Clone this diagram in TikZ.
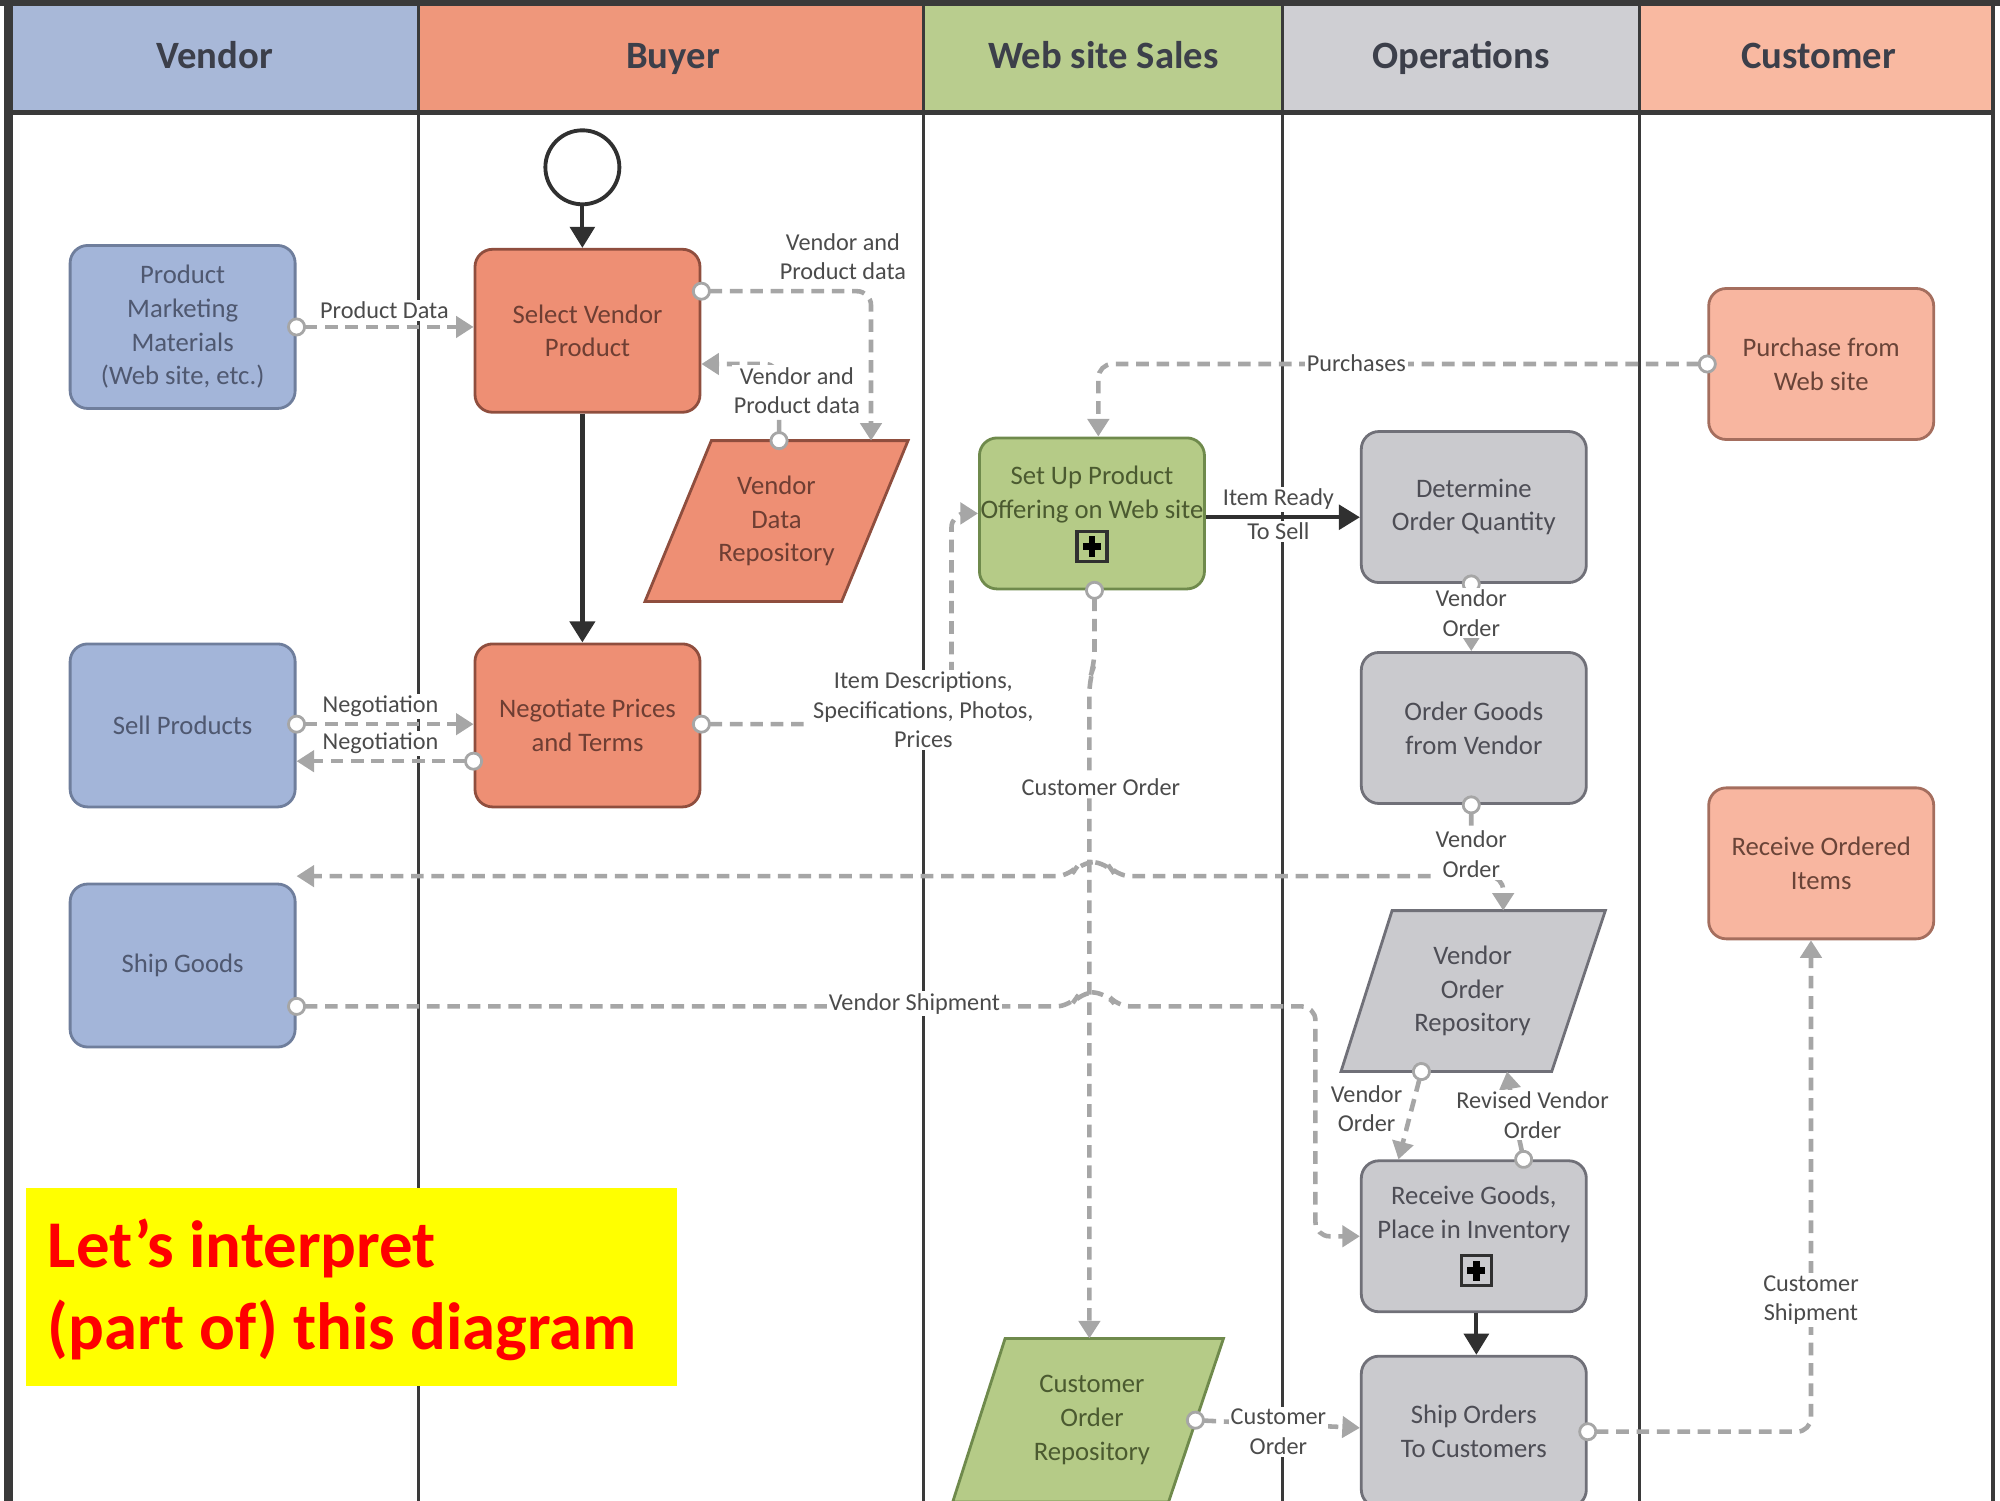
\documentclass[tikz,border=0pt]{standalone}
\usepackage{fontspec}
\setmainfont{Carlito}
\usetikzlibrary{arrows.meta,calc}
\definecolor{vhead}{HTML}{A8B8D8}
\definecolor{vfill}{HTML}{A3B5D9}
\definecolor{vdraw}{HTML}{6F7E9C}
\definecolor{vtext}{HTML}{4F5870}
\definecolor{bhead}{HTML}{EF977B}
\definecolor{bfill}{HTML}{EE8F74}
\definecolor{bdraw}{HTML}{8F4E3E}
\definecolor{btext}{HTML}{6E3E33}
\definecolor{whead}{HTML}{B9CD8E}
\definecolor{wfill}{HTML}{B5CB87}
\definecolor{wdraw}{HTML}{6F8A4C}
\definecolor{wtext}{HTML}{4B5A30}
\definecolor{ohead}{HTML}{CFCFD3}
\definecolor{ofill}{HTML}{CACACE}
\definecolor{odraw}{HTML}{707078}
\definecolor{otext}{HTML}{4D4D55}
\definecolor{chead}{HTML}{F9B9A1}
\definecolor{cfill}{HTML}{F8B6A0}
\definecolor{cdraw}{HTML}{A56E5E}
\definecolor{ctext}{HTML}{6A4438}
\definecolor{conncol}{HTML}{A6A6A6}
\definecolor{lblcol}{HTML}{4B4B4B}
\definecolor{flowcol}{HTML}{303030}
\definecolor{lanecol}{HTML}{3A3A3A}
\definecolor{headtext}{HTML}{3C3F4A}
\definecolor{yel}{HTML}{FFFF00}
\tikzset{
  proc/.style={draw, rounded corners=5pt, line width=0.8pt, align=center,
    minimum width=2.25cm, minimum height=1.51cm, inner sep=1pt,
    font=\fontsize{7.6}{9.6}\selectfont},
  vend/.style={proc, fill=vfill, draw=vdraw, text=vtext, minimum height=1.63cm},
  buy/.style={proc, fill=bfill, draw=bdraw, text=btext, minimum height=1.63cm},
  web/.style={proc, fill=wfill, draw=wdraw, text=wtext},
  ops/.style={proc, fill=ofill, draw=odraw, text=otext},
  cust/.style={proc, fill=cfill, draw=cdraw, text=ctext},
  repotext/.style={align=center, inner sep=0pt, font=\fontsize{7.6}{9.6}\selectfont},
  headlbl/.style={anchor=base, text=headtext, font=\fontsize{11}{13}\selectfont\bfseries},
  lane/.style={draw=lanecol, line width=0.8pt},
  conn/.style={draw=conncol, line width=1.3pt, dash pattern=on 3.6pt off 2.2pt,
    rounded corners=4pt},
  carr/.style={conn, -{Triangle[width=6pt,length=5pt]}},
  ccirc/.style={conn, {Circle[fill=white,line width=0.8pt,length=5.4pt,width=5.4pt]}-{Triangle[width=6pt,length=5pt]}, shorten <=-2.7pt},
  lbl/.style={fill=white, inner sep=0.6pt, align=center, text=lblcol,
    font=\fontsize{6.9}{8.4}\selectfont},
  flow/.style={draw=flowcol, line width=1.2pt, -{Triangle[width=7pt,length=6pt]}},
  plusbox/.style={draw=flowcol, line width=0.9pt, minimum size=0.30cm, inner sep=0pt},
}
\begin{document}
\begin{tikzpicture}[x=0.012771cm,y=-0.012771cm]
\useasboundingbox (0,0) rectangle (1566,1174.5);
% header band
\fill[vhead] (8,4) rectangle (328,88);
\fill[bhead] (328,4) rectangle (723,88);
\fill[whead] (723,4) rectangle (1004,88);
\fill[ohead] (1004,4) rectangle (1284,88);
\fill[chead] (1284,4) rectangle (1560,88);
\node[headlbl] (hv) at (168,54) {Vendor};
\node[headlbl] (hb) at (527,54) {Buyer};
\node[headlbl] (hw) at (864,54) {Web site Sales};
\node[headlbl] (ho) at (1144,54) {Operations};
\node[headlbl] (hc) at (1424,54) {Customer};
% lanes and frame
\foreach \x in {328,723,1004,1284} \draw[lane] (\x,4) -- (\x,1180);
\fill[lanecol] (0,0) rectangle (1566,4.5);
\fill[lanecol] (3,0) rectangle (10,1180);
\fill[lanecol] (1559,0) rectangle (1562,1180);
\draw[lanecol, line width=1.6pt] (8,88) -- (1560,88);

% ---------- nodes ----------
\node[vend] (pmm) at (143,256) {Product\\Marketing\\Materials\\(Web site, etc.)};
\node[vend] (sp) at (143,568) {Sell Products};
\node[vend] (sg) at (143,756) {Ship Goods};
\node[draw=flowcol, line width=1.1pt, circle, minimum size=0.74cm, inner sep=0pt] (start) at (456,131) {};
\node[buy] (svp) at (460,259) {Select Vendor\\Product};
\node[buy] (npt) at (460,568) {Negotiate Prices\\and Terms};
% vendor data repository
\filldraw[fill=bfill, draw=bdraw, line width=0.8pt] (557,345) -- (711,345) -- (659,471) -- (505,471) -- cycle;
\node[repotext, text=btext] (vdr) at (608,408) {Vendor\\Data\\Repository};
\node[web] (sup) at (855,402) {};
\node[repotext, text=wtext] (supt) at (855,387) {Set Up Product\\Offering on Web site};
\node[plusbox] (plus1) at (855,428) {};
% customer order repository
\filldraw[fill=wfill, draw=wdraw, line width=0.8pt] (787,1048) -- (958,1048) -- (915,1176) -- (746,1176) -- cycle;
\node[repotext, text=wtext] (cor) at (855,1112) {Customer\\Order\\Repository};
% vendor order repository
\filldraw[fill=ofill, draw=odraw, line width=0.8pt] (1090,713) -- (1257,713) -- (1215,839) -- (1050,839) -- cycle;
\node[repotext, text=otext] (vor) at (1153,776) {Vendor\\Order\\Repository};
\node[ops] (doq) at (1154,397) {Determine\\Order Quantity};
\node[ops] (ogv) at (1154,570) {Order Goods\\from Vendor};
\node[ops] (rg) at (1154,968) {};
\node[repotext, text=otext] (rgt) at (1154,951) {Receive Goods,\\Place in Inventory};
\node[plusbox] (plus2) at (1156,995) {};
\node[ops] (so) at (1154,1121) {Ship Orders\\To Customers};
\node[cust] (pws) at (1426,285) {Purchase from\\Web site};
\node[cust] (roi) at (1426,676) {Receive Ordered\\Items};
% plus signs
\foreach \p in {plus1,plus2}{
  \fill[black] ($(\p)+(-7,-2.6)$) rectangle ($(\p)+(7,2.6)$);
  \fill[black] ($(\p)+(-2.6,-8)$) rectangle ($(\p)+(2.6,8)$);
}
% named attachment points on the repositories
\coordinate (vdrA) at (682,345);
\coordinate (vdrB) at (610,345);
\coordinate (corA) at (853,1048);
\coordinate (corB) at (936,1112);
\coordinate (vorA) at (1177,713);
\coordinate (vorB) at (1113,839);
\coordinate (vorC) at (1180,839);
\coordinate (vo2) at (1152,686);

% ---------- solid flows ----------
\draw[flow] (start) -- (svp.north -| start);
\draw[flow, line width=1.6pt] (svp.south -| start) -- (npt.north -| start);
\draw[flow] (sup.east |- 0,405) -- (doq.west |- 0,405);
\draw[flow] (rg.south -| 1156,0) -- (so.north -| 1156,0);

% ---------- message flows ----------
\draw[ccirc] (pmm.east) -- (svp.west |- 0,256);
\draw[ccirc] (svp.east |- 0,228) -- (682,228) -- (vdrA);
\draw[ccirc] (vdrB) -- (610,285) -- (svp.east |- 0,285);
\draw[ccirc] (sp.east |- 0,567) -- (npt.west |- 0,567);
\draw[ccirc] (npt.west |- 0,596) -- (sp.east |- 0,596);
\draw[ccirc] (npt.east |- 0,567) -- (745,567) -- (745,402) -- (sup.west);
\draw[ccirc] (pws.west) -- (860,285) -- (sup.north -| 860,0);
\draw[ccirc] (doq.south -| 1152,0) -- (ogv.north -| 1152,0);
\draw[ccirc] (ogv.south -| 1152,0) -- (vo2) -- (1177,686) -- (vorA);
\draw[carr] (vo2) -- (874,686) -- (866,675) -- (846,675) -- (838,686) -- (sg.east |- 0,686);
\draw[ccirc] (sup.south -| 857,0) -- (857,520) -- (853,532) -- (corA);
\draw[ccirc] (sg.east |- 0,788) -- (838,788) -- (846,777) -- (866,777) -- (874,788) -- (1030,788) -- (1030,968) -- (rg.west);
\draw[ccirc] (vorB) -- (rg.north -| 1095,0);
\draw[ccirc] (rg.north -| 1193,0) -- (1186,875) -- (vorC);
\draw[ccirc] (corB) -- (so.west |- 0,1118);
\draw[ccirc] (so.east) -- (1418,1121) -- (roi.south -| 1418,0);

% ---------- labels ----------
\node[lbl] (l1) at (301,243) {Product Data};
\node[lbl] (l2) at (660,201) {Vendor and\\Product data};
\node[lbl] (l3) at (624,306) {Vendor and\\Product data};
\node[lbl] (l4) at (298,553) {Negotiation};
\node[lbl] (l5) at (298,582) {Negotiation};
\node[lbl] (l6) at (723,556) {Item Descriptions,\\Specifications, Photos,\\Prices};
\node[lbl] (l7) at (1062,284) {Purchases};
\node[lbl] (l8a) at (1001,391) {Item Ready};
\node[lbl] (l8b) at (1001,416) {To Sell};
\node[lbl] (l9) at (1152,480) {Vendor\\Order};
\node[lbl] (l10) at (1152,669) {Vendor\\Order};
\node[lbl] (l11) at (862,616) {Customer Order};
\node[lbl] (l12) at (716,786) {Vendor Shipment};
\node[lbl] (l13) at (1070,868) {Vendor\\Order};
\node[lbl] (l14) at (1200,873) {Revised Vendor\\Order};
\node[lbl] (l15) at (1001,1121) {Customer\\Order};
\node[lbl] (l16) at (1418,1018) {Customer\\Shipment};

% ---------- yellow note ----------
\fill[yel] (20,930) rectangle (530,1085);
\node[anchor=west, align=left, inner sep=0pt, text=red,
  font=\fontsize{19}{23.3}\selectfont\bfseries] (note) at (37,1010)
  {Let’s interpret\\(part of) this diagram};
\end{tikzpicture}
\end{document}
